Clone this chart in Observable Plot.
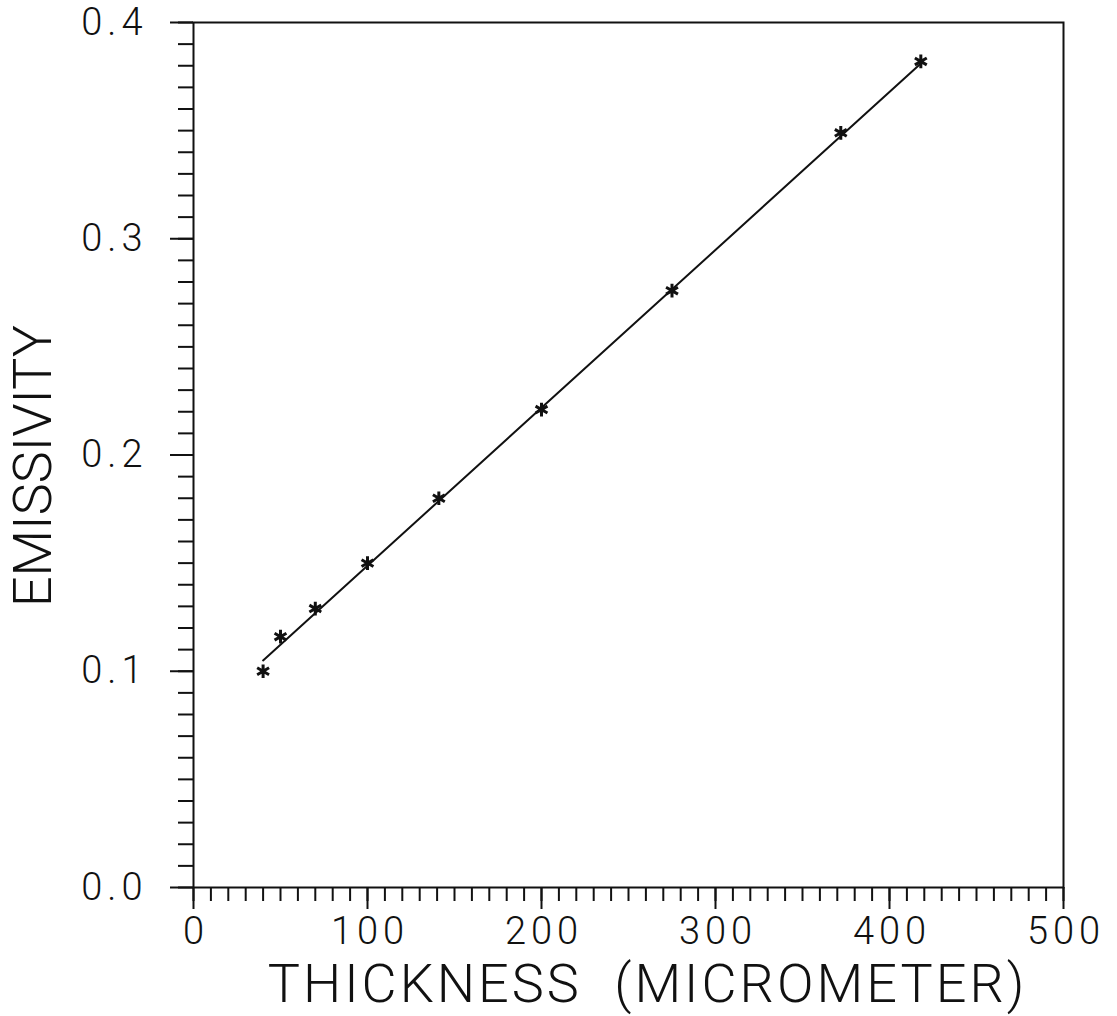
<!DOCTYPE html>
<html>
<head>
<meta charset="utf-8">
<script src="https://cdn.jsdelivr.net/npm/d3@7"></script>
<script src="https://cdn.jsdelivr.net/npm/@observablehq/plot@0.6"></script>
<style>
  html, body { margin: 0; padding: 0; background: #fff; }
  #chart svg text { font-weight: 300; }
</style>
</head>
<body>
<div id="chart"></div>
<script>
// Measured data (thickness in micrometer, emissivity)
const thickness = [40, 50, 70, 100, 141, 200, 275, 372, 418];
const emissivity = [0.100, 0.116, 0.129, 0.150, 0.180, 0.221, 0.276, 0.349, 0.382];
// Fitted straight line end points
const fitX = [40, 418];
const fitY = [0.105, 0.381];
// Tick values
const xMajorTicks = [0, 100, 200, 300, 400, 500];
const xMinorTicks = d3.range(0, 501, 10);
const yMajorTicks = [0.0, 0.1, 0.2, 0.3, 0.4];
const yMinorTicks = d3.range(0, 41).map(i => i / 100);

const points = thickness.map((t, i) => ({t, e: emissivity[i]}));
const fit = fitX.map((t, i) => ({t, e: fitY[i]}));

const chart = Plot.plot({
  width: 1117,
  height: 1016,
  marginLeft: 193,
  marginRight: 54,
  marginTop: 22,
  marginBottom: 129,
  style: {fontFamily: "Roboto, 'DejaVu Sans', sans-serif", color: "#111", background: "#fff"},
  x: {domain: [0, 500]},
  y: {domain: [0, 0.4]},
  marks: [
    Plot.frame({stroke: "#111", strokeWidth: 2}),
    Plot.axisX({ticks: xMinorTicks, tickSize: 14, text: null, strokeWidth: 2, label: null}),
    Plot.axisX({ticks: xMajorTicks, tickSize: 22, tickPadding: 8, strokeWidth: 2, fontSize: 38,
      tickFormat: d => String(d),
      label: "THICKNESS  (MICROMETER)", labelAnchor: "center", labelArrow: "none", labelOffset: 114}),
    Plot.axisY({ticks: yMinorTicks, tickSize: 15, text: null, strokeWidth: 2, label: null}),
    Plot.axisY({ticks: yMajorTicks, tickSize: 23, tickPadding: 23, strokeWidth: 2, fontSize: 38,
      tickFormat: d => d.toFixed(1),
      label: "EMISSIVITY", labelAnchor: "center", labelArrow: "none", labelOffset: 181}),
    Plot.line(fit, {x: "t", y: "e", stroke: "#111", strokeWidth: 2}),
    Plot.dot(points, {x: "t", y: "e", symbol: "asterisk", r: 6.5, stroke: "#111", strokeWidth: 3})
  ]
});

// axis titles: size and spacing
d3.select(chart).selectAll("g[aria-label='x-axis label'] text")
  .style("font-size", "54px").style("letter-spacing", "3px").attr("dx", 19);
d3.select(chart).selectAll("g[aria-label='y-axis label'] text")
  .style("font-size", "54px").style("letter-spacing", "0px").attr("dx", -11);
// tick labels: wider spacing like the plotter font
d3.select(chart).selectAll("g[aria-label='x-axis tick label'] text")
  .style("letter-spacing", "5px").attr("dx", 2.5);
d3.select(chart).selectAll("g[aria-label='y-axis tick label'] text")
  .style("letter-spacing", "5px");

document.getElementById("chart").appendChild(chart);
</script>
</body>
</html>
